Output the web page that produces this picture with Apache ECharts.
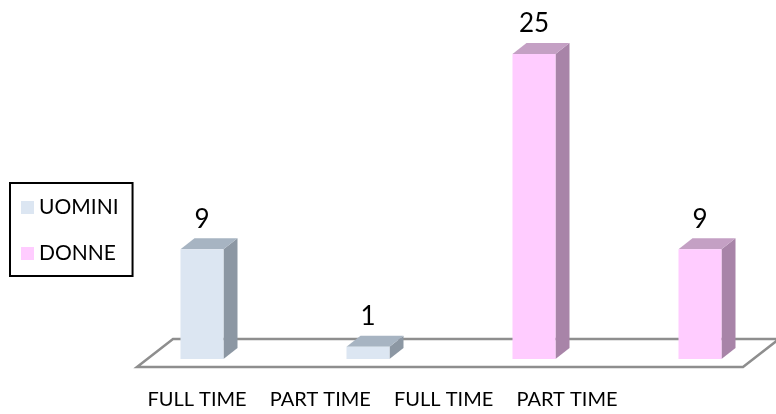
<!DOCTYPE html>
<html>
<head>
<meta charset="utf-8">
<script src="https://cdn.jsdelivr.net/npm/echarts@6/dist/echarts.min.js"></script>
<style>
html,body{margin:0;padding:0;background:#fff;}
#c{width:776px;height:414px;}
</style>
</head>
<body>
<div id="c"></div>
<script>
var categories = ['FULL TIME', 'PART TIME', 'FULL TIME', 'PART TIME'];
var seriesNames = ['UOMINI', 'DONNE'];
var uomini = [9, 1, 0, 0];
var donne = [0, 0, 25, 9];

var FONT = 'Lato, "Liberation Sans", Arial, sans-serif';
var palette = {
  UOMINI: {front: '#dce6f2', side: '#8c97a3', top: '#a7b4c2'},
  DONNE: {front: '#ffccff', side: '#a884a8', top: '#c4a0c4'}
};

var BAR_W = 43, DX = 14, DY = -11;

function makeRender(name) {
  var col = palette[name];
  return function (params, api) {
    var v = api.value(1);
    if (!v) return;
    var base = api.coord([api.value(0), 0]);
    var top = api.coord([api.value(0), v]);
    var x0 = base[0] - BAR_W / 2, x1 = base[0] + BAR_W / 2;
    var yb = base[1], yt = top[1];
    return {
      type: 'group',
      children: [
        {type: 'polygon', shape: {points: [[x1, yt], [x1 + DX, yt + DY], [x1 + DX, yb + DY], [x1, yb]]}, style: {fill: col.side}},
        {type: 'polygon', shape: {points: [[x0, yt], [x0 + DX, yt + DY], [x1 + DX, yt + DY], [x1, yt]]}, style: {fill: col.top}},
        {type: 'rect', shape: {x: x0, y: yt, width: BAR_W, height: yb - yt}, style: {fill: col.front}},
        {type: 'text', style: {text: String(v), x: base[0], y: yt - 30, align: 'center', verticalAlign: 'middle',
          fill: '#000', font: '26px ' + FONT}}
      ]
    };
  };
}

function renderFloor(params, api) {
  var cs = params.coordSys;
  var yb = cs.y + cs.height;
  var fl = cs.x - 65, fr = cs.x + cs.width + 43;
  var yf = yb + 8, yk = yb - 20;
  return {
    type: 'polygon',
    shape: {points: [[fl, yf], [fr, yf], [fr + 36, yk], [fl + 36, yk]]},
    style: {fill: '#fff', stroke: '#8e8e8e', lineWidth: 2.5}
  };
}

var chart = echarts.init(document.getElementById('c'), null, {renderer: 'canvas'});
chart.setOption({
  backgroundColor: '#fff',
  animation: false,
  grid: [
    {left: 202, right: 76, top: 54, bottom: 55},
    {left: 197, right: 209, top: 54, bottom: 55}
  ],
  xAxis: [
    {type: 'category', gridIndex: 0, data: categories, boundaryGap: false, show: false},
    {type: 'category', gridIndex: 1, data: categories, boundaryGap: false,
      axisLine: {show: false}, axisTick: {show: false}, splitLine: {show: false},
      axisLabel: {margin: 31, color: '#000', fontSize: 20, interval: 0, fontFamily: FONT}}
  ],
  yAxis: [
    {type: 'value', gridIndex: 0, min: 0, max: 25, show: false},
    {type: 'value', gridIndex: 1, min: 0, max: 25, show: false}
  ],
  legend: {
    orient: 'vertical', left: 10, top: 183,
    data: seriesNames,
    icon: 'rect', itemWidth: 13, itemHeight: 13, itemGap: 25,
    padding: [14, 14, 12, 11],
    borderColor: '#000', borderWidth: 2,
    textStyle: {color: '#000', fontSize: 21, fontFamily: FONT}
  },
  series: [
    {type: 'custom', name: 'floor', xAxisIndex: 0, yAxisIndex: 0, z: 1, silent: true,
      renderItem: renderFloor, data: [[0, 0]]},
    {type: 'custom', name: 'UOMINI', xAxisIndex: 0, yAxisIndex: 0, z: 2,
      itemStyle: {color: palette.UOMINI.front},
      renderItem: makeRender('UOMINI'),
      data: uomini.map(function (v, i) { return [i, v]; })},
    {type: 'custom', name: 'DONNE', xAxisIndex: 0, yAxisIndex: 0, z: 3,
      itemStyle: {color: palette.DONNE.front},
      renderItem: makeRender('DONNE'),
      data: donne.map(function (v, i) { return [i, v]; })}
  ]
});
</script>
</body>
</html>
